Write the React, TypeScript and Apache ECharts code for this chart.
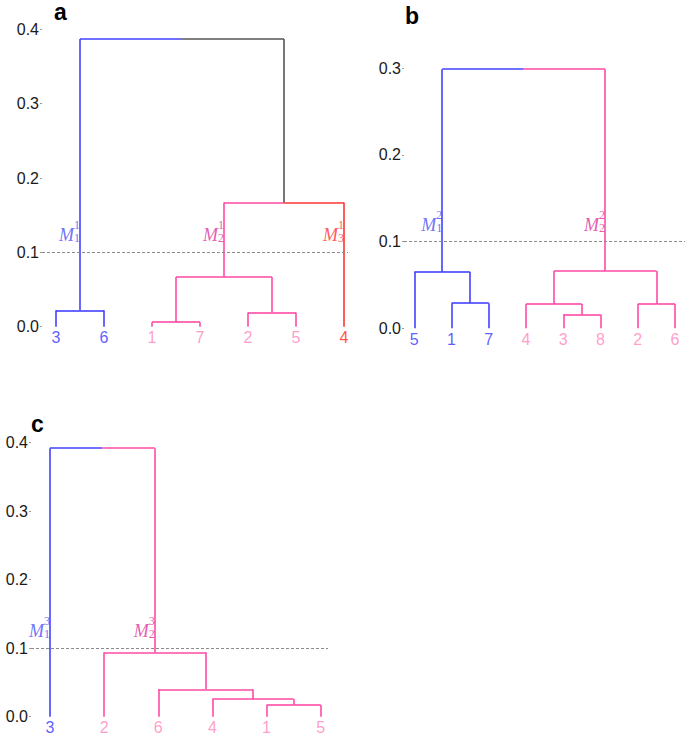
import React, { useEffect, useRef } from "react";
import * as echarts from "echarts";

// ---------- data ----------
// Panel a
const leavesA = ["3", "6", "1", "7", "2", "5", "4"];
const groupsA = [1, 1, 2, 2, 2, 2, 3];
const mergesA = [[-3, -4], [-5, -6], [-1, -2], [1, 2], [4, -7], [3, 5]];
const heightsA = [0.006, 0.019, 0.022, 0.067, 0.167, 0.387];
const clusterNodesA = [3, 4, -7];

// Panel b
const leavesB = ["5", "1", "7", "4", "3", "8", "2", "6"];
const groupsB = [1, 1, 1, 2, 2, 2, 2, 2];
const mergesB = [[-5, -6], [-4, 1], [-7, -8], [-2, -3], [-1, 4], [2, 3], [5, 6]];
const heightsB = [0.016, 0.028, 0.028, 0.029, 0.065, 0.066, 0.299];
const clusterNodesB = [5, 6];

// Panel c
const leavesC = ["3", "2", "6", "4", "1", "5"];
const groupsC = [1, 2, 2, 2, 2, 2];
const mergesC = [[-5, -6], [-4, 1], [-3, 2], [-2, 3], [-1, 4]];
const heightsC = [0.017, 0.026, 0.04, 0.094, 0.392];
const clusterNodesC = [-1, 4];

const panelNames = ["a", "b", "c"];
const yMaxes = [0.4, 0.3, 0.4];
const cutHeight = 0.1;

// ---------- styles ----------
const lineColors: Record<number, string> = { 0: "#555555", 1: "#4242ff", 2: "#ff4aa5", 3: "#ff3333" };
const leafColors: Record<number, string> = { 1: "#3333ff", 2: "#ff85bd", 3: "#ff2020" };
const mColors: Record<number, string> = { 1: "#4d4df5", 2: "#dd3399", 3: "#ff3030" };

type Node = { x: number; h: number; g: number };

function buildTree(groups: number[], merges: number[][], heights: number[]) {
  const leafNodes: Node[] = groups.map((g, i) => ({ x: i + 1, h: 0, g }));
  const mergeNodes: Node[] = [];
  const get = (r: number) => (r < 0 ? leafNodes[-r - 1] : mergeNodes[r - 1]);
  const segs: any[] = [];
  merges.forEach((m, k) => {
    const A = get(m[0]);
    const B = get(m[1]);
    const h = heights[k];
    const mid = (A.x + B.x) / 2;
    const g = A.g === B.g ? A.g : 0;
    segs.push({ coords: [[A.x, A.h], [A.x, h]], lineStyle: { color: lineColors[A.g] } });
    segs.push({ coords: [[B.x, B.h], [B.x, h]], lineStyle: { color: lineColors[B.g] } });
    segs.push({ coords: [[A.x, h], [mid, h]], lineStyle: { color: lineColors[A.g] } });
    segs.push({ coords: [[mid, h], [B.x, h]], lineStyle: { color: lineColors[B.g] } });
    mergeNodes.push({ x: mid, h, g });
  });
  return { segs, get };
}

const panels = [
  { leaves: leavesA, groups: groupsA, merges: mergesA, heights: heightsA, cl: clusterNodesA },
  { leaves: leavesB, groups: groupsB, merges: mergesB, heights: heightsB, cl: clusterNodesB },
  { leaves: leavesC, groups: groupsC, merges: mergesC, heights: heightsC, cl: clusterNodesC },
];

// layout (pixels)
const grids = [
  { left: 42, top: 29.3, width: 306, height: 297.4 },
  { left: 404, top: 68.3, width: 281, height: 260 },
  { left: 31, top: 442.7, width: 297, height: 274 },
];
const xRanges = [
  [0.7083, 7.0833],
  [0.7234, 8.2685],
  [0.6494, 6.135],
];
const titlePos = [
  { left: 54, top: 0 },
  { left: 405, top: 4 },
  { left: 31, top: 412 },
];

export default function App() {
  const ref = useRef<HTMLDivElement>(null);
  useEffect(() => {
    if (!ref.current) return;
    const chart = echarts.init(ref.current, undefined, { renderer: "svg" });
    const series: any[] = [];
    panels.forEach((p, i) => {
      const tree = buildTree(p.groups, p.merges, p.heights);
      series.push({
        type: "lines",
        coordinateSystem: "cartesian2d",
        xAxisIndex: i,
        yAxisIndex: i,
        polyline: false,
        clip: false,
        silent: true,
        lineStyle: { width: 1.6, opacity: 1, curveness: 0 },
        data: tree.segs,
      });
      // leaf labels + cut line
      series.push({
        type: "scatter",
        xAxisIndex: i,
        yAxisIndex: i,
        symbolSize: 0.1,
        itemStyle: { color: "rgba(0,0,0,0)" },
        silent: true,
        clip: false,
        data: p.leaves.map((l, j) => ({
          value: [j + 1, 0],
          name: l,
          label: { color: leafColors[p.groups[j]] },
        })),
        label: {
          show: true,
          position: "bottom",
          distance: 3,
          formatter: (d: any) => d.name,
          fontFamily: "Liberation Sans",
          fontSize: 16,
        },
        markLine: {
          silent: true,
          symbol: ["none", "none"],
          label: { show: false },
          lineStyle: { color: "#8a8a8a", type: [3, 2], width: 1.2 },
          data: [{ yAxis: cutHeight }],
        },
      });
      // cluster labels M
      series.push({
        type: "scatter",
        xAxisIndex: i,
        yAxisIndex: i,
        symbolSize: 0.1,
        itemStyle: { color: "rgba(0,0,0,0)" },
        silent: true,
        clip: false,
        z: 5,
        data: p.cl.map((r, k) => {
          const n = tree.get(r);
          const c = mColors[n.g];
          return {
            value: [n.x, cutHeight],
            name: `{sup|${i + 1}}\n{m|M}{sub|${k + 1}}`,
            label: {
              rich: {
                m: { fontFamily: "Liberation Serif", fontStyle: "italic", fontSize: 18, color: c, lineHeight: 14, verticalAlign: "bottom" },
                sub: { fontFamily: "Liberation Serif", fontSize: 12, color: c, lineHeight: 12, verticalAlign: "bottom" },
                sup: { fontFamily: "Liberation Serif", fontSize: 12, color: c, lineHeight: 10 },
              },
            },
          };
        }),
        label: {
          show: true,
          position: "left",
          distance: 0,
          align: "right",
          verticalAlign: "bottom",
          offset: [0, -8],
          formatter: (d: any) => d.name,
        },
      });
    });

    const option: any = {
      animation: false,
      backgroundColor: "#ffffff",
      title: panelNames.map((t, i) => ({
        text: t,
        left: titlePos[i].left,
        top: titlePos[i].top,
        padding: 0,
        textStyle: { fontFamily: "Liberation Sans", fontWeight: "bold", fontSize: 23, color: "#000" },
      })),
      grid: grids.map((g) => ({ ...g, containLabel: false })),
      xAxis: xRanges.map((r, i) => ({
        type: "value",
        gridIndex: i,
        min: r[0],
        max: r[1],
        show: false,
      })),
      yAxis: yMaxes.map((m, i) => ({
        type: "value",
        gridIndex: i,
        min: 0,
        max: m,
        interval: 0.1,
        axisLine: { show: false },
        axisTick: { show: true, length: 2, lineStyle: { color: "#999" } },
        splitLine: { show: false },
        axisLabel: {
          margin: 3,
          fontFamily: "Liberation Sans",
          fontSize: 16,
          color: "#1a1a1a",
          formatter: (v: number) => v.toFixed(1),
        },
      })),
      series,
    };
    chart.setOption(option);
    return () => chart.dispose();
  }, []);
  return (
    <div
      ref={ref}
      style={{ position: "fixed", left: 0, top: 0, width: 685, height: 738, background: "#fff" }}
    />
  );
}
